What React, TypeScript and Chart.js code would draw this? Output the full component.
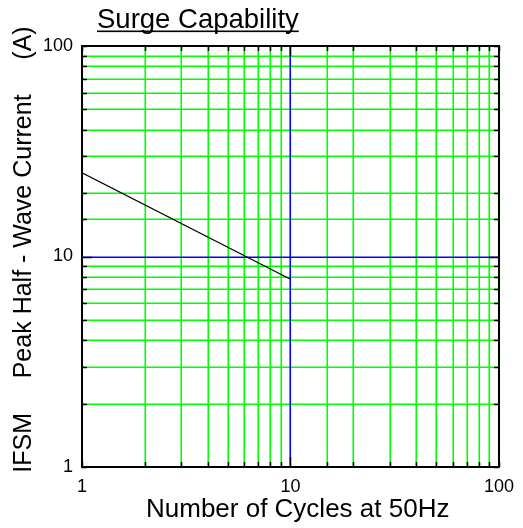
import React, { useEffect, useRef } from "react";
import { Chart, registerables } from "chart.js";

Chart.register(...registerables);

const cycles = [1, 10];
const current = [25, 7.8];
const labelledTicks = [1, 10, 100];
const titleText = "Surge Capability";
const xTitle = "  Number of Cycles at 50Hz";
const yTitle = "  IFSM     Peak Half - Wave Current     (A)";

const FONT = "'Liberation Sans', Arial, Helvetica, sans-serif";
const GREEN = "#00ff00";
const BLUE = "#0000ff";

const gridPlugin = {
  id: "gridPlugin",
  beforeDatasetsDraw(chart: any) {
    const { ctx, chartArea, scales } = chart;
    const { left, right, top, bottom } = chartArea;
    const xs = scales.x;
    const ys = scales.y;
    ctx.save();
    ctx.lineWidth = 1.6;
    const draw = (color: string, x1: number, y1: number, x2: number, y2: number) => {
      ctx.strokeStyle = color;
      ctx.beginPath();
      ctx.moveTo(x1, y1);
      ctx.lineTo(x2, y2);
      ctx.stroke();
    };
    const greens: any[] = [];
    const blues: any[] = [];
    xs.ticks.forEach((t: any) => {
      const px = Math.round(xs.getPixelForValue(t.value)) + 0.25;
      (t.value === 10 ? blues : greens).push([px, top, px, bottom]);
    });
    ys.ticks.forEach((t: any) => {
      const py = Math.round(ys.getPixelForValue(t.value)) + 0.25;
      (t.value === 10 ? blues : greens).push([left, py, right, py]);
    });
    greens.forEach((l) => draw(GREEN, l[0], l[1], l[2], l[3]));
    blues.forEach((l) => draw(BLUE, l[0], l[1], l[2], l[3]));
    ctx.restore();
  },
};

const framePlugin = {
  id: "framePlugin",
  afterDraw(chart: any) {
    const { ctx, chartArea, scales } = chart;
    const { left, right, top, bottom } = chartArea;
    const xs = scales.x;
    const ys = scales.y;
    ctx.save();
    ctx.strokeStyle = "#000";
    ctx.lineWidth = 1.5;
    ctx.beginPath();
    xs.ticks.forEach((t: any) => {
      const px = Math.round(xs.getPixelForValue(t.value)) + 0.5;
      const len = t.value === 10 ? 10 : 5;
      ctx.moveTo(px, bottom);
      ctx.lineTo(px, bottom - len);
      ctx.moveTo(px, top);
      ctx.lineTo(px, top + len);
    });
    ys.ticks.forEach((t: any) => {
      const py = Math.round(ys.getPixelForValue(t.value)) + 0.5;
      const len = t.value === 10 ? 10 : 5;
      ctx.moveTo(left, py);
      ctx.lineTo(left + len, py);
      ctx.moveTo(right, py);
      ctx.lineTo(right - len, py);
    });
    ctx.stroke();
    ctx.lineWidth = 2;
    ctx.strokeRect(left, top, right - left, bottom - top);
    // title
    ctx.fillStyle = "#000";
    ctx.font = `27.5px ${FONT}`;
    ctx.textAlign = "left";
    ctx.textBaseline = "alphabetic";
    ctx.fillText(titleText, 97, 28);
    const w = ctx.measureText(titleText).width;
    ctx.fillRect(97, 30.5, w, 1.6);
    ctx.restore();
  },
};

export default function App() {
  const ref = useRef<HTMLCanvasElement | null>(null);
  useEffect(() => {
    if (!ref.current) return;
    const tickCb = (v: any) => (labelledTicks.includes(Number(v)) ? String(v) : "");
    const chart = new Chart(ref.current, {
      type: "line",
      data: {
        datasets: [
          {
            data: cycles.map((c, i) => ({ x: c, y: current[i] })),
            borderColor: "#000",
            borderWidth: 1.2,
            pointRadius: 0,
            tension: 0,
          },
        ],
      },
      options: {
        animation: false,
        responsive: false,
        maintainAspectRatio: false,
        devicePixelRatio: 1,
        layout: { padding: { top: 46, right: 21, left: 0, bottom: 0 } },
        plugins: { legend: { display: false }, tooltip: { enabled: false } },
        scales: {
          x: {
            type: "logarithmic",
            min: 1,
            max: 100,
            afterFit: (s: any) => {
              s.height = 61;
            },
            border: { display: false },
            grid: { display: false, drawTicks: false },
            ticks: {
              autoSkip: false,
              maxRotation: 0,
              padding: 9,
              color: "#000",
              font: { family: FONT, size: 18 },
              callback: tickCb,
            },
            title: {
              display: true,
              text: xTitle,
              color: "#000",
              font: { family: FONT, size: 26 },
              padding: { top: 0, bottom: 3 },
            },
          },
          y: {
            type: "logarithmic",
            min: 1,
            max: 100,
            afterFit: (s: any) => {
              s.width = 82;
            },
            border: { display: false },
            grid: { display: false, drawTicks: false },
            ticks: {
              autoSkip: false,
              padding: 9,
              color: "#000",
              font: { family: FONT, size: 18 },
              callback: tickCb,
            },
            title: {
              display: true,
              text: yTitle,
              color: "#000",
              font: { family: FONT, size: 25 },
              padding: { top: 9, bottom: 0 },
            },
          },
        },
      },
      plugins: [gridPlugin, framePlugin],
    });
    return () => chart.destroy();
  }, []);
  return (
    <div style={{ position: "fixed", left: 0, top: 0, width: 523, height: 528, background: "#fff" }}>
      <canvas ref={ref} width={523} height={528} style={{ width: 523, height: 528 }} />
    </div>
  );
}
